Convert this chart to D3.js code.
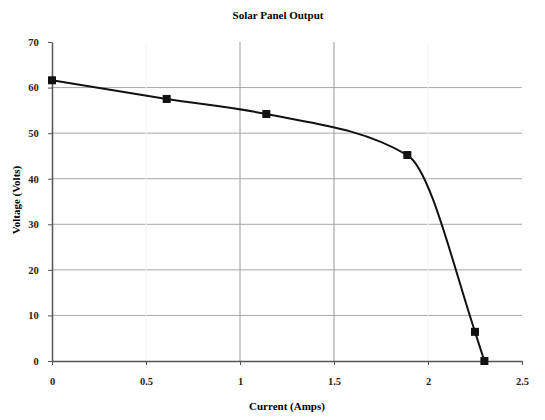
<!DOCTYPE html>
<html>
<head>
    <meta charset="utf-8">
    <style>
        body {
            margin: 0;
            background: white;
        }

        svg {
            font-family: 'Liberation Serif', 'Times New Roman', serif;
        }
    </style>
</head>
<body>
    <svg width="545" height="420"></svg>

    <script src="https://d3js.org/d3.v7.min.js"></script>
    <script>
        // values
        let current = [0, 0.61, 1.14, 1.89, 2.25, 2.3];
        let voltage = [61.6, 57.5, 54.2, 45.2, 6.4, 0];
        let xTicks = [0, 0.5, 1, 1.5, 2, 2.5];
        let yTicks = [0, 10, 20, 30, 40, 50, 60, 70];

        let points = current.map((c, i) => ({ x: c, y: voltage[i] }));

        let margin = { top: 42, right: 23, bottom: 59, left: 52 };
        let width = 545;
        let height = 420;

        let svg = d3.select("svg");

        let x = d3.scaleLinear()
            .domain([0, 2.5])
            .range([margin.left, width - margin.right]);

        let y = d3.scaleLinear()
            .domain([0, 70])
            .range([height - margin.bottom, margin.top]);

        // horizontal gridlines
        svg.append("g")
            .selectAll("line")
            .data(yTicks.filter(d => d > 0 && d < 70))
            .join("line")
            .attr("x1", x(0))
            .attr("x2", x(2.5))
            .attr("y1", d => y(d))
            .attr("y2", d => y(d))
            .style("stroke", "#a8a8a8")
            .style("stroke-width", 1);

        // vertical gridlines (only 1 and 1.5 show clearly)
        svg.append("g")
            .selectAll("line")
            .data(xTicks.filter(d => d > 0 && d < 2.5))
            .join("line")
            .attr("x1", d => x(d))
            .attr("x2", d => x(d))
            .attr("y1", y(0))
            .attr("y2", y(70))
            .style("stroke", d => (d == 1 || d == 1.5) ? "#9a9a9a" : "#f2f2f2")
            .style("stroke-width", 1);

        // axes
        let xAxis = svg.append("g")
            .attr("transform", `translate(0,${y(0)})`)
            .call(d3.axisBottom(x).tickValues(xTicks).tickSize(4).tickSizeOuter(0)
                .tickFormat(d => d));

        let yAxis = svg.append("g")
            .attr("transform", `translate(${x(0)},0)`)
            .call(d3.axisLeft(y).tickValues(yTicks).tickSize(4).tickSizeOuter(0));

        [xAxis, yAxis].forEach(a => {
            a.select(".domain").style("stroke", "#555").style("stroke-width", 1.5);
            a.selectAll(".tick line").style("stroke", "#555");
            a.selectAll("text")
                .style("font-family", "'Liberation Serif', serif")
                .style("font-weight", "bold")
                .style("font-size", "10.5px")
                .style("fill", "#222");
        });
        xAxis.selectAll("text").attr("dy", "1.6em");
        yAxis.selectAll("text").attr("dx", "-0.6em");

        // curve
        let line = d3.line()
            .x(d => x(d.x))
            .y(d => y(d.y))
            .curve(d3.curveMonotoneX);

        svg.append("path")
            .datum(points)
            .attr("d", line)
            .style("fill", "none")
            .style("stroke", "#111")
            .style("stroke-width", 2);

        svg.selectAll(".marker")
            .data(points)
            .join("rect")
            .attr("class", "marker")
            .attr("x", d => x(d.x) - 4)
            .attr("y", d => y(d.y) - 4)
            .attr("width", 8)
            .attr("height", 8)
            .style("fill", "#111");

        // titles
        svg.append("text")
            .attr("x", 278)
            .attr("y", 19)
            .attr("text-anchor", "middle")
            .style("font-weight", "bold")
            .style("font-size", "11px")
            .text("Solar Panel Output");

        svg.append("text")
            .attr("x", 287)
            .attr("y", 410)
            .attr("text-anchor", "middle")
            .style("font-weight", "bold")
            .style("font-size", "11px")
            .text("Current (Amps)");

        svg.append("text")
            .attr("transform", "translate(20,200) rotate(-90)")
            .attr("text-anchor", "middle")
            .style("font-weight", "bold")
            .style("font-size", "11px")
            .text("Voltage (Volts)");
    </script>
</body>
</html>
